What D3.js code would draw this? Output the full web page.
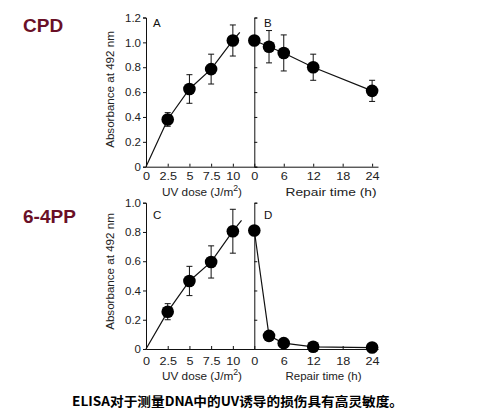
<!DOCTYPE html>
<html>
<head>
<meta charset="utf-8">
<script src="https://cdn.jsdelivr.net/npm/d3@7"></script>
<style>
  body { margin: 0; background: #fff; }
  svg { display: block; }
  .tick text { font-family: "Liberation Sans", Arial, sans-serif; font-size: 11.5px; fill: #222; }
  .axis path, .axis line { stroke: #111; stroke-width: 1; }
</style>
</head>
<body>
<svg id="chart" width="479" height="418"></svg>
<script>
// ---- data ----
const doses = [2.5, 5, 7.5, 10];
const repairTimes = [0, 3, 6, 12, 24];

// CPD, panel A (dose response) and B (repair)
const cpdDoseMean = [0.38, 0.625, 0.785, 1.015];
const cpdDoseErr = [0.055, 0.115, 0.12, 0.125];
const cpdDoseLineEnd = [10.8, 1.08];
const cpdRepairMean = [1.015, 0.965, 0.915, 0.80, 0.61];
const cpdRepairErr = [0, 0.13, 0.145, 0.105, 0.085];

// 6-4PP, panel C and D
const ppDoseMean = [0.255, 0.465, 0.595, 0.805];
const ppDoseErr = [0.055, 0.1, 0.11, 0.15];
const ppDoseLineEnd = [11.0, 0.88];
const ppRepairMean = [0.81, 0.09, 0.04, 0.015, 0.01];
const ppRepairErr = [0, 0.03, 0.02, 0.005, 0.005];

const doseTicks = [0, 2.5, 5, 7.5, 10];
const timeTicks = [0, 6, 12, 18, 24];
const cpdYTicks = [0, 0.2, 0.4, 0.6, 0.8, 1.0, 1.2];
const ppYTicks = [0, 0.2, 0.4, 0.6, 0.8, 1.0];

const svg = d3.select("#chart");
const font = '"Liberation Sans", Arial, sans-serif';
const fmtY = d => d === 0 ? "0" : d3.format(".1f")(d);

function drawRow(opt) {
  const g = svg.append("g");
  const xA = d3.scaleLinear().domain([0, 12.47]).range([146, 254.3]);
  const xB = d3.scaleLinear().domain([0, 25.2]).range([254.3, 378]);
  const y = d3.scaleLinear().domain([0, opt.yMax]).range([opt.y0, opt.yTop]);

  // x axes (ticks pointing inward)
  const xa = g.append("g").attr("class", "axis")
    .attr("transform", `translate(0,${opt.y0})`)
    .call(d3.axisBottom(xA).tickValues(doseTicks).tickSizeInner(-3).tickSizeOuter(0)
      .tickPadding(opt.xPad).tickFormat(d => d3.format("")(d)));
  const xb = g.append("g").attr("class", "axis")
    .attr("transform", `translate(0,${opt.y0})`)
    .call(d3.axisBottom(xB).tickValues(timeTicks).tickSizeInner(-3).tickSizeOuter(0)
      .tickPadding(opt.xPad));
  [xa, xb].forEach(a => a.selectAll(".tick text").attr("transform", "scale(1.1,1)"));

  // y axes
  g.append("g").attr("class", "axis")
    .attr("transform", `translate(${xA(0)},0)`)
    .call(d3.axisLeft(y).tickValues(opt.yTicks).tickSize(3).tickPadding(2).tickFormat(fmtY));
  g.append("g").attr("class", "axis")
    .attr("transform", `translate(${xB(0)},0)`)
    .call(d3.axisRight(y).tickValues(opt.yTicks).tickSize(3).tickFormat(""));

  const line = d3.line();

  // dose line (passes through origin and runs a little past the last point)
  const dosePts = [[xA(0), y(0)]]
    .concat(doses.map((d, i) => [xA(d), y(opt.doseMean[i])]))
    .concat([[xA(opt.doseEnd[0]), y(opt.doseEnd[1])]]);
  g.append("path").attr("d", line(dosePts)).attr("fill", "none")
    .attr("stroke", "#111").attr("stroke-width", 1.2);

  const repPts = repairTimes.map((t, i) => [xB(t), y(opt.repMean[i])]);
  g.append("path").attr("d", line(repPts)).attr("fill", "none")
    .attr("stroke", "#111").attr("stroke-width", 1.2);

  function points(xs, xScale, mean, err) {
    xs.forEach((v, i) => {
      const cx = xScale(v);
      if (err[i] > 0) {
        const y1 = y(mean[i] + err[i]), y2 = y(mean[i] - err[i]);
        g.append("line").attr("x1", cx).attr("x2", cx).attr("y1", y1).attr("y2", y2)
          .attr("stroke", "#111").attr("stroke-width", 1);
        [y1, y2].forEach(yy => g.append("line")
          .attr("x1", cx - 3).attr("x2", cx + 3).attr("y1", yy).attr("y2", yy)
          .attr("stroke", "#111").attr("stroke-width", 1));
      }
      g.append("circle").attr("cx", cx).attr("cy", y(mean[i])).attr("r", 6.3).attr("fill", "#000");
    });
  }
  points(doses, xA, opt.doseMean, opt.doseErr);
  points(repairTimes, xB, opt.repMean, opt.repErr);

  // panel letters
  g.append("text").attr("x", 153).attr("y", opt.letterY).text(opt.letters[0])
    .attr("font-family", font).attr("font-size", 11.5).attr("fill", "#111");
  g.append("text").attr("x", 264).attr("y", opt.letterY).text(opt.letters[1])
    .attr("font-family", font).attr("font-size", 11.5).attr("fill", "#111");

  // axis titles
  const t1 = g.append("text").attr("x", 162).attr("y", opt.titleY)
    .attr("font-family", font).attr("font-size", 11.5).attr("fill", "#222")
    .attr("textLength", 80).attr("lengthAdjust", "spacingAndGlyphs");
  t1.append("tspan").text("UV dose (J/m");
  t1.append("tspan").text("2").attr("font-size", 8.5).attr("dy", -4.5);
  t1.append("tspan").text(")").attr("dy", 4.5);
  g.append("text").attr("x", 285.5).attr("y", opt.titleY)
    .attr("font-family", font).attr("font-size", 11.5).attr("fill", "#222")
    .attr("textLength", opt.repairLen).attr("lengthAdjust", "spacingAndGlyphs")
    .text("Repair time (h)");
  g.append("text").attr("transform", `translate(114,${opt.yTitleC}) rotate(-90)`)
    .attr("text-anchor", "middle").attr("font-family", font).attr("font-size", 11.6)
    .attr("fill", "#222").text("Absorbance at 492 nm");

  // row label
  g.append("text").attr("x", 23).attr("y", opt.labelY).text(opt.label)
    .attr("font-family", font).attr("font-weight", "bold").attr("font-size", 19)
    .attr("fill", "#6a1027");
}

drawRow({
  y0: 166.7, yTop: 17.5, yMax: 1.2, yTicks: cpdYTicks, xPad: 5.6,
  doseMean: cpdDoseMean, doseErr: cpdDoseErr, doseEnd: cpdDoseLineEnd,
  repMean: cpdRepairMean, repErr: cpdRepairErr,
  letters: ["A", "B"], letterY: 26.5, titleY: 195.5, repairLen: 91, yTitleC: 89.5,
  label: "CPD", labelY: 32
});
drawRow({
  y0: 349, yTop: 202.7, yMax: 1.0, yTicks: ppYTicks, xPad: 7.4,
  doseMean: ppDoseMean, doseErr: ppDoseErr, doseEnd: ppDoseLineEnd,
  repMean: ppRepairMean, repErr: ppRepairErr,
  letters: ["C", "D"], letterY: 218.5, titleY: 379.5, repairLen: 76, yTitleC: 271.5,
  label: "6-4PP", labelY: 223
});

svg.append("text").attr("x", 72).attr("y", 406).attr("font-family", '"Noto Sans CJK SC", sans-serif')
  .attr("font-weight", "bold").attr("font-size", 13).attr("fill", "#000")
  .attr("textLength", 331).attr("lengthAdjust", "spacingAndGlyphs")
  .text("ELISA对于测量DNA中的UV诱导的损伤具有高灵敏度。");
</script>
</body>
</html>
